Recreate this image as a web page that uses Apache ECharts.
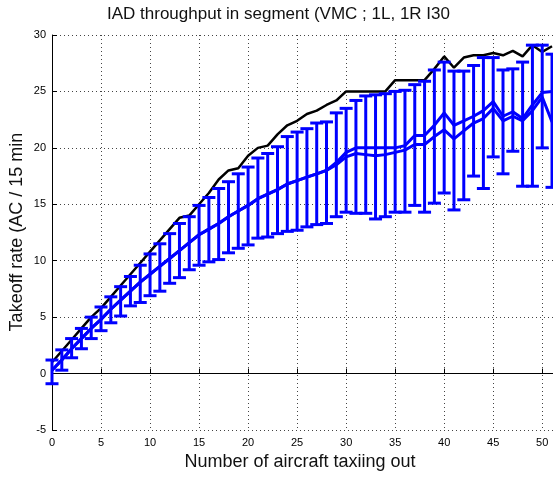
<!DOCTYPE html>
<html>
<head>
<meta charset="utf-8">
<script src="https://cdn.jsdelivr.net/npm/echarts@6/dist/echarts.min.js"></script>
<style>
  html, body { margin: 0; padding: 0; background: #fff; }
  #chart { width: 553px; height: 477px; }
</style>
</head>
<body>
<div id="chart"></div>
<script>
// aircraft taxiing out
const taxiCount = [0, 1, 2, 3, 4, 5, 6, 7, 8, 9, 10, 11, 12, 13, 14, 15, 16, 17, 18, 19, 20,
  21, 22, 23, 24, 25, 26, 27, 28, 29, 30, 31, 32, 33, 34, 35, 36, 37, 38, 39, 40,
  41, 42, 43, 44, 45, 46, 47, 48, 49, 50, 51];

// black line (max)
const maxRate = [1.0, 2.0, 3.0, 4.0, 5.0, 5.8, 6.8, 7.8, 8.8, 9.8, 10.8, 11.8, 12.8, 13.8, 14.0,
  15.0, 16.0, 17.2, 18.0, 18.2, 19.3, 20.0, 20.2, 21.2, 22.0, 22.4, 23.0, 23.3, 23.8, 24.2,
  25.0, 25.0, 25.0, 25.0, 25.0, 26.0, 26.0, 26.0, 26.0, 27.0, 28.1, 27.1, 28.0, 28.2, 28.2,
  28.4, 28.2, 28.6, 28.1, 29.1, 28.5, 29.0];

// blue lines
const meanRate = [0.3, 1.2, 2.2, 3.1, 4.0, 4.8, 5.7, 6.5, 7.3, 8.1, 8.8, 9.5, 10.2, 10.9, 11.6,
  12.3, 12.8, 13.3, 13.9, 14.4, 14.9, 15.5, 15.9, 16.3, 16.8, 17.1, 17.4, 17.7, 18.0, 18.5,
  19.2, 19.5, 19.4, 19.3, 19.4, 19.6, 19.8, 20.3, 20.3, 21.0, 21.6, 20.8, 21.5, 22.2, 22.6,
  23.5, 22.4, 22.8, 22.4, 23.3, 24.5, 22.3];
const medianRate = [0.3, 1.2, 2.2, 3.1, 4.0, 4.8, 5.7, 6.5, 7.3, 8.1, 8.8, 9.5, 10.2, 10.9, 11.6,
  12.3, 12.8, 13.3, 13.9, 14.4, 14.9, 15.5, 15.9, 16.3, 16.8, 17.1, 17.4, 17.7, 18.0, 18.7,
  19.6, 20.0, 20.0, 20.0, 20.0, 20.0, 20.2, 21.1, 21.1, 22.0, 23.1, 22.0, 22.4, 22.8, 23.3,
  24.1, 22.8, 23.2, 22.6, 23.8, 24.9, 25.0];

// error bars
const errHigh = [1.2, 2.1, 3.1, 4.0, 5.0, 5.9, 6.8, 7.7, 8.6, 9.6, 10.6, 11.5, 12.4, 13.3, 13.9,
  14.9, 15.6, 16.4, 17.0, 17.7, 18.3, 19.1, 19.5, 20.1, 21.0, 21.4, 21.7, 22.2, 22.3, 23.1,
  23.5, 24.2, 24.6, 24.7, 24.8, 25.0, 25.1, 25.6, 25.9, 26.9, 27.6, 26.8, 26.8, 27.3, 28.0,
  28.0, 26.9, 27.0, 27.6, 29.1, 29.1, 28.3];
const errLow = [-0.9, 0.3, 1.4, 2.2, 3.1, 3.8, 4.5, 5.1, 6.0, 6.3, 6.9, 7.3, 8.0, 8.5, 9.2,
  9.6, 9.9, 10.1, 10.7, 11.1, 11.4, 12.0, 12.1, 12.4, 12.6, 12.7, 13.0, 13.2, 13.3, 13.9,
  14.3, 14.2, 14.2, 13.7, 13.9, 14.3, 14.3, 14.9, 14.3, 15.1, 16.0, 14.5, 15.4, 17.5, 16.4,
  19.2, 17.7, 19.7, 16.6, 16.6, 20.0, 16.5];

const titleText = 'IAD throughput in segment (VMC ; 1L, 1R I30';
const xName = 'Number of aircraft taxiing out';
const yName = 'Takeoff rate (AC / 15 min';

const chart = echarts.init(document.getElementById('chart'));
const labelFont = "'Liberation Sans Narrow', 'Liberation Sans', Arial, sans-serif";
const textFont = "'Liberation Sans', Arial, sans-serif";
const blue = '#0000ff';

const pairs = (ys) => taxiCount.map((x, i) => [x, ys[i]]);

chart.setOption({
  animation: false,
  backgroundColor: '#fff',
  // the plot runs off the right edge of the picture, so the x axis stops at ~51
  grid: { left: 52, right: 0, top: 35, bottom: 47 },
  xAxis: {
    type: 'value', min: 0, max: 51.1, interval: 5,
    axisLine: { lineStyle: { color: '#000', width: 1 } },
    axisTick: { inside: true, length: 5, lineStyle: { color: '#000' } },
    axisLabel: { color: '#000', fontSize: 11, fontFamily: labelFont, margin: 7, showMaxLabel: false },
    splitLine: { show: true, lineStyle: { color: '#444', type: [1, 3], width: 1 } }
  },
  yAxis: {
    type: 'value', min: -5, max: 30, interval: 5,
    axisLine: { show: true, lineStyle: { color: '#000', width: 1 } },
    axisTick: { show: true, inside: true, length: 5, lineStyle: { color: '#000' } },
    axisLabel: { color: '#000', fontSize: 11, fontFamily: labelFont, margin: 6 },
    splitLine: { show: true, lineStyle: { color: '#444', type: [1, 3], width: 1 } }
  },
  graphic: [
    { type: 'text', left: 107, top: 6,
      style: { text: titleText, fontSize: 17, fontFamily: textFont, fill: '#111' } },
    { type: 'text', x: 300, y: 462,
      style: { text: xName, fontSize: 18, fontFamily: textFont, fill: '#111',
        align: 'center', verticalAlign: 'middle' } },
    { type: 'text', x: 17, y: 232, rotation: Math.PI / 2,
      style: { text: yName, fontSize: 18, fontFamily: textFont, fill: '#111',
        align: 'center', verticalAlign: 'middle' } }
  ],
  series: [
    {
      type: 'line', data: pairs(maxRate), showSymbol: false, z: 1,
      lineStyle: { color: '#000', width: 2.5 }
    },
    {
      type: 'custom', z: 2,
      data: taxiCount.map((x, i) => [x, errLow[i], errHigh[i]]),
      renderItem: function (params, api) {
        const x = api.value(0);
        const top = api.coord([x, api.value(2)]);
        const bot = api.coord([x, api.value(1)]);
        const half = 6.5;
        const st = { stroke: blue, lineWidth: 3 };
        return {
          type: 'group',
          children: [
            { type: 'line', shape: { x1: top[0], y1: top[1], x2: bot[0], y2: bot[1] }, style: st },
            { type: 'line', shape: { x1: top[0] - half, y1: top[1], x2: top[0] + half, y2: top[1] }, style: st },
            { type: 'line', shape: { x1: bot[0] - half, y1: bot[1], x2: bot[0] + half, y2: bot[1] }, style: st }
          ]
        };
      }
    },
    {
      type: 'line', data: pairs(meanRate), showSymbol: false, z: 3,
      lineStyle: { color: blue, width: 3 }
    },
    {
      type: 'line', data: pairs(medianRate), showSymbol: false, z: 3,
      lineStyle: { color: blue, width: 3 }
    }
  ]
});
</script>
</body>
</html>
